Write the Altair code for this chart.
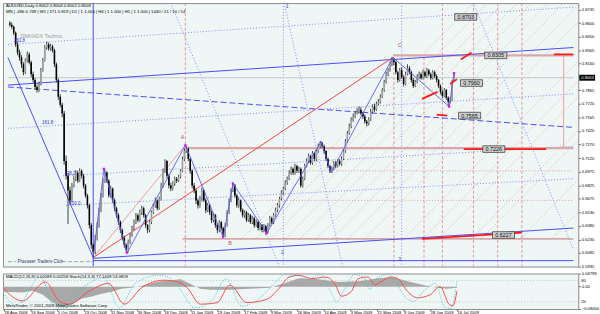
import json
import altair as alt
import pandas as pd

FONT = "Liberation Sans"
PLOT_W = 583
MAIN_H = 267
SUB_H = 36

# ---------------- price bars (AUDUSD daily) ----------------
first_open = 0.8600
closes = [
    0.8583, 0.8561, 0.8496, 0.8367, 0.8280, 0.8226, 0.8150, 0.8064, 0.8194, 0.8259,
    0.8172, 0.8042, 0.7978, 0.7902, 0.7869, 0.7934, 0.8086, 0.8194, 0.8334, 0.8367,
    0.8323, 0.8345, 0.8302, 0.8150, 0.7978, 0.7794, 0.7707, 0.7610, 0.7091, 0.6929,
    0.6767, 0.6659, 0.6821, 0.6896, 0.6961, 0.6875, 0.6983, 0.6929, 0.6821, 0.6713,
    0.6605, 0.6388, 0.6172, 0.6096, 0.6248, 0.6388, 0.6551, 0.6713, 0.6875, 0.6961,
    0.6875, 0.6713, 0.6788, 0.6659, 0.6572, 0.6496, 0.6421, 0.6334, 0.6248, 0.6172,
    0.6118, 0.6205, 0.6280, 0.6356, 0.6421, 0.6496, 0.6442, 0.6529, 0.6572, 0.6496,
    0.6388, 0.6334, 0.6421, 0.6529, 0.6605, 0.6659, 0.6572, 0.6680, 0.6821, 0.6983,
    0.7091, 0.6929, 0.6821, 0.6788, 0.6842, 0.6896, 0.6875, 0.6918, 0.6983, 0.7113,
    0.7199, 0.7221, 0.7113, 0.6983, 0.6821, 0.6767, 0.6659, 0.6605, 0.6680, 0.6767,
    0.6659, 0.6551, 0.6605, 0.6529, 0.6442, 0.6496, 0.6388, 0.6334, 0.6421, 0.6356,
    0.6280, 0.6388, 0.6529, 0.6659, 0.6767, 0.6821, 0.6713, 0.6605, 0.6659, 0.6551,
    0.6496, 0.6529, 0.6442, 0.6496, 0.6421, 0.6464, 0.6388, 0.6421, 0.6356, 0.6388,
    0.6334, 0.6377, 0.6312, 0.6388, 0.6464, 0.6421, 0.6496, 0.6551, 0.6605, 0.6680,
    0.6745, 0.6788, 0.6853, 0.6896, 0.6961, 0.7005, 0.6961, 0.7037, 0.6983, 0.7005,
    0.6821, 0.6896, 0.7037, 0.7091, 0.7145, 0.7070, 0.7178, 0.7113, 0.7199, 0.7253,
    0.7286, 0.7253, 0.7199, 0.7113, 0.7037, 0.6983, 0.7005, 0.7070, 0.7037, 0.7091,
    0.7059, 0.7113, 0.7199, 0.7307, 0.7394, 0.7469, 0.7545, 0.7578, 0.7610, 0.7632,
    0.7653, 0.7610, 0.7578, 0.7523, 0.7502, 0.7545, 0.7632, 0.7686, 0.7653, 0.7718,
    0.7740, 0.7794, 0.7869, 0.7956, 0.8042, 0.8086, 0.8150, 0.8194, 0.8172, 0.8064,
    0.7978, 0.8086, 0.8010, 0.7934, 0.8042, 0.8107, 0.8064, 0.7978, 0.7913, 0.7956,
    0.8010, 0.8042, 0.8000, 0.8064, 0.8021, 0.8086, 0.8042, 0.8000, 0.8064, 0.8021,
    0.7978, 0.7913, 0.7848, 0.7804, 0.7869, 0.7783, 0.7740, 0.7761, 0.7956, 0.8003,
]
highs = [
    0.8625, 0.8610, 0.8575, 0.8510, 0.8400, 0.8310, 0.8250, 0.8175, 0.8215, 0.8290,
    0.8280, 0.8190, 0.8070, 0.8000, 0.7930, 0.7960, 0.8110, 0.8220, 0.8360, 0.8400,
    0.8390, 0.8375, 0.8365, 0.8320, 0.8170, 0.7995, 0.7820, 0.7730, 0.7640, 0.7150,
    0.6960, 0.6810, 0.6850, 0.6930, 0.6990, 0.6985, 0.7010, 0.7000, 0.6950, 0.6840,
    0.6730, 0.6620, 0.6410, 0.6190, 0.6280, 0.6420, 0.6580, 0.6740, 0.6900, 0.7000,
    0.6980, 0.6890, 0.6820, 0.6800, 0.6680, 0.6590, 0.6520, 0.6440, 0.6350, 0.6270,
    0.6190, 0.6230, 0.6300, 0.6380, 0.6450, 0.6520, 0.6515, 0.6560, 0.6600, 0.6590,
    0.6510, 0.6400, 0.6440, 0.6550, 0.6630, 0.6690, 0.6670, 0.6700, 0.6850, 0.7010,
    0.7110, 0.7100, 0.6950, 0.6850, 0.6870, 0.6920, 0.6915, 0.6940, 0.7000, 0.7140,
    0.7230, 0.7260, 0.7240, 0.7130, 0.7000, 0.6850, 0.6790, 0.6680, 0.6710, 0.6800,
    0.6780, 0.6680, 0.6630, 0.6620, 0.6550, 0.6520, 0.6510, 0.6410, 0.6440, 0.6430,
    0.6370, 0.6410, 0.6550, 0.6680, 0.6790, 0.6860, 0.6840, 0.6730, 0.6690, 0.6670,
    0.6570, 0.6550, 0.6545, 0.6520, 0.6510, 0.6490, 0.6480, 0.6450, 0.6440, 0.6410,
    0.6400, 0.6400, 0.6390, 0.6410, 0.6490, 0.6480, 0.6520, 0.6580, 0.6630, 0.6700,
    0.6770, 0.6810, 0.6880, 0.6920, 0.6990, 0.7030, 0.7020, 0.7060, 0.7050, 0.7030,
    0.7020, 0.6920, 0.7060, 0.7120, 0.7170, 0.7160, 0.7200, 0.7190, 0.7220, 0.7280,
    0.7310, 0.7300, 0.7270, 0.7210, 0.7130, 0.7050, 0.7030, 0.7090, 0.7090, 0.7110,
    0.7110, 0.7140, 0.7220, 0.7330, 0.7420, 0.7500, 0.7570, 0.7610, 0.7640, 0.7670,
    0.7690, 0.7680, 0.7630, 0.7600, 0.7540, 0.7570, 0.7660, 0.7710, 0.7720, 0.7740,
    0.7770, 0.7820, 0.7890, 0.7980, 0.8070, 0.8110, 0.8180, 0.8230, 0.8215, 0.8190,
    0.8080, 0.8110, 0.8120, 0.8030, 0.8070, 0.8150, 0.8130, 0.8080, 0.8000, 0.7980,
    0.8040, 0.8070, 0.8060, 0.8090, 0.8080, 0.8110, 0.8100, 0.8060, 0.8085, 0.8080,
    0.8040, 0.7990, 0.7930, 0.7870, 0.7890, 0.7880, 0.7800, 0.7790, 0.7980, 0.8050,
]
lows = [
    0.8560, 0.8540, 0.8470, 0.8340, 0.8250, 0.8190, 0.8110, 0.8030, 0.8045, 0.8170,
    0.8150, 0.8010, 0.7950, 0.7870, 0.7840, 0.7845, 0.7920, 0.8070, 0.8180, 0.8310,
    0.8300, 0.8300, 0.8280, 0.8120, 0.7950, 0.7760, 0.7680, 0.7570, 0.7050, 0.6890,
    0.6400, 0.6620, 0.6640, 0.6800, 0.6870, 0.6850, 0.6860, 0.6900, 0.6790, 0.6690,
    0.6570, 0.6350, 0.6130, 0.6030, 0.6070, 0.6220, 0.6360, 0.6530, 0.6690, 0.6850,
    0.6850, 0.6690, 0.6690, 0.6630, 0.6540, 0.6470, 0.6390, 0.6300, 0.6220, 0.6140,
    0.6080, 0.6100, 0.6180, 0.6260, 0.6330, 0.6400, 0.6420, 0.6425, 0.6500, 0.6470,
    0.6360, 0.6300, 0.6310, 0.6400, 0.6510, 0.6580, 0.6550, 0.6555, 0.6660, 0.6800,
    0.6960, 0.6900, 0.6790, 0.6760, 0.6770, 0.6820, 0.6850, 0.6860, 0.6900, 0.6970,
    0.7090, 0.7180, 0.7090, 0.6950, 0.6790, 0.6740, 0.6620, 0.6570, 0.6580, 0.6650,
    0.6640, 0.6520, 0.6530, 0.6500, 0.6410, 0.6420, 0.6360, 0.6300, 0.6310, 0.6330,
    0.6250, 0.6260, 0.6370, 0.6510, 0.6640, 0.6750, 0.6690, 0.6580, 0.6580, 0.6530,
    0.6470, 0.6470, 0.6420, 0.6425, 0.6400, 0.6400, 0.6360, 0.6370, 0.6330, 0.6330,
    0.6310, 0.6310, 0.6280, 0.6295, 0.6370, 0.6400, 0.6400, 0.6480, 0.6530, 0.6580,
    0.6660, 0.6720, 0.6770, 0.6830, 0.6880, 0.6940, 0.6940, 0.6940, 0.6960, 0.6960,
    0.6800, 0.6800, 0.6880, 0.7020, 0.7070, 0.7050, 0.7050, 0.7090, 0.7090, 0.7180,
    0.7230, 0.7230, 0.7170, 0.7090, 0.7010, 0.6960, 0.6960, 0.6990, 0.7010, 0.7020,
    0.7040, 0.7040, 0.7100, 0.7180, 0.7290, 0.7380, 0.7450, 0.7520, 0.7560, 0.7600,
    0.7610, 0.7590, 0.7550, 0.7500, 0.7470, 0.7480, 0.7530, 0.7610, 0.7630, 0.7640,
    0.7700, 0.7720, 0.7780, 0.7850, 0.7940, 0.8020, 0.8070, 0.8130, 0.8140, 0.8040,
    0.7950, 0.7960, 0.7990, 0.7910, 0.7920, 0.8030, 0.8040, 0.7950, 0.7890, 0.7900,
    0.7940, 0.7990, 0.7980, 0.7985, 0.8000, 0.8000, 0.8020, 0.7980, 0.7985, 0.8000,
    0.7950, 0.7890, 0.7820, 0.7780, 0.7790, 0.7760, 0.7690, 0.7720, 0.7750, 0.7990,
]

price_ticks = [0.8745, 0.8600, 0.8450, 0.8305, 0.8160, 0.7865, 0.7720, 0.7565, 0.7420,
               0.7270, 0.7120, 0.6975, 0.6825, 0.6675, 0.6530, 0.6380, 0.6230, 0.6085, 0.5935]
last_price = 0.8003
x_domain = [0, 291.5]
price_domain = [0.5934, 0.8821]
P_TOP, P_BOT = price_domain[1], price_domain[0]

date_ticks = [0.5, 14, 27.5, 41, 54.5, 68, 81.5, 95, 108.5, 122, 135.5, 149, 162.5, 176,
              189.5, 203, 216.5, 230]
date_labels = ["28 Aug 2008", "16 Sep 2008", "5 Oct 2008", "23 Oct 2008", "11 Nov 2008",
               "30 Nov 2008", "18 Dec 2008", "11 Jan 2009", "29 Jan 2009", "17 Feb 2009",
               "9 Mar 2009", "26 Mar 2009", "14 Apr 2009", "3 May 2009", "21 May 2009",
               "9 Jun 2009", "28 Jun 2009", "16 Jul 2009"]

# ---------------- indicator window ----------------
macd_bar = [0, 10, 15, 20, 25, 30, 35, 40, 45, 50, 55, 60, 65, 70, 75, 80, 85, 90, 95, 100,
            105, 115, 125, 135, 142.5, 150, 160, 170, 180, 190, 197.5, 205, 212.5, 220, 225, 230]
macd_val = [-0.018, -0.021, -0.014, -0.028, -0.056, -0.073, -0.063, -0.042, -0.035, -0.025,
            -0.018, -0.007, -0.003, 0.003, 0.013, 0.020, 0.024, 0.027, 0.010, -0.007,
            -0.011, -0.011, -0.007, -0.003, 0.013, 0.031, 0.027, 0.017, 0.020, 0.031,
            0.034, 0.020, 0.007, -0.003, -0.007, -0.003]
macd_domain = [-0.08, 0.04799]
macd_ticks = [0.04799, 0.0, -0.08]

sig_bar = [0, 10, 21.5, 28.5, 33.5, 43.5, 53.5, 61.5, 70, 81.5, 88.5, 93.5, 100, 108.5, 115,
           123.5, 133.5, 140, 145, 150, 156.5, 163.5, 168.5, 171.5, 176.5, 180, 185, 188.5,
           191.5, 196.5, 200, 205, 210, 216.5, 221.5, 226, 228, 230]
sig_val = [58.6, 22.5, 76.5, 22.5, 13.6, 49.5, 72, 13.6, 58.6, 81, 76.5, 58.6, 13.6, 18, 67.6,
           18, 27, 58.6, 90, 94.6, 85.6, 90, 67.6, 36, 49.5, 85.6, 90, 67.6, 76.5, 90, 85.6,
           49.5, 31.6, 40.5, 63, 13.6, 9, 50]
main_bar = [0, 7, 19, 26, 31, 41, 51, 59, 67, 79, 86, 91, 97, 106, 113, 121, 131, 138, 143,
            149, 154, 161, 166, 169, 174, 178, 183, 186, 189, 195, 199, 203, 208, 214, 219,
            224, 227, 230]
main_val = [45, 10, 90, 8, 3, 62, 88, 4, 72, 95, 82, 45, 3, 25, 85, 8, 35, 75, 98, 97, 82,
            97, 50, 20, 65, 97, 88, 55, 85, 97, 78, 38, 22, 55, 72, 4, 2, 77]
stoch_levels = [80, 20]

# ---------------- drawn objects (bar index, price) ----------------
blue_solid = [(44, P_TOP, 44, P_BOT), (0, 0.8226, 44, 0.6032), (0, 0.7923, 291.5, 0.8334),
              (44, 0.6024, 291.5, 0.6356), (44, 0.5999, 291.5, 0.5999)]
blue_dashed = [(0, 0.7902, 291.5, 0.7459)]
blue_dotted = [(0, 0.8367, 291.5, 0.8777), (0, 0.7448, 291.5, 0.7826),
               (28.5, 0.6929, 291.5, 0.7253), (30, 0.6604, 291.5, 0.6896),
               (84, P_TOP, 140, P_BOT), (142.5, P_TOP, 172.5, P_BOT), (240, P_TOP, 291.5, 0.6118),
               (142, P_TOP, 142, P_BOT), (203, P_TOP, 203, P_BOT)]
red_solid = [(44, 0.6032, 198.5, 0.8226)]
pink_thin = [(44, 0.6032, 91.5, 0.7264), (286.5, 0.8248, 286.5, 0.7221)]
pink_thick = [(198.5, 0.8248, 291.5, 0.8248), (91.5, 0.7232, 291.5, 0.7232)]
brown_line = [(90, 0.6237, 291.5, 0.6237)]
red_thick = [(281.5, 0.8258, 291.5, 0.8258), (235, 0.7221, 277.5, 0.7221),
             (221, 0.7599, 226.5, 0.7588), (213.5, 0.6237, 265, 0.6306),
             (213.5, 0.7772, 221.5, 0.7848), (228, 0.7934, 231.5, 0.7988),
             (233.5, 0.8204, 239, 0.8280)]
red_dashed_v = [(91.5, P_TOP, 91.5, P_BOT), (199, 0.8226, 199, P_BOT), (214.5, 0.8226, 214.5, P_BOT),
                (224, P_TOP, 224, P_BOT), (240, P_TOP, 240, P_BOT), (252.5, P_TOP, 252.5, P_BOT),
                (265, P_TOP, 265, P_BOT)]
red_dotted_h = [(91.5, 0.6983, 291.5, 0.6983), (122.5, 0.6659, 291.5, 0.6659)]
red_dotted_diag = [(120, 0.6226, 240, 0.8821), (127.5, 0.6226, 247.5, 0.8821),
                   (135, 0.6226, 255, 0.8821), (142.5, 0.6226, 262.5, 0.8821),
                   (150, 0.6226, 270, 0.8821), (158.5, 0.6226, 278.5, 0.8821),
                   (166.5, 0.6226, 286.5, 0.8821), (175, 0.6226, 295, 0.8821),
                   (183.5, 0.6226, 303.5, 0.8821), (203.5, 0.6226, 323.5, 0.8821),
                   (213.5, 0.6226, 333.5, 0.8821), (221.5, 0.6226, 341.5, 0.8821),
                   (238.5, 0.6226, 358.5, 0.8821), (243.5, 0.6226, 363.5, 0.8821),
                   (263.5, 0.6226, 383.5, 0.8821), (280, 0.6226, 400, 0.8821)]
gray_dashed = [(0, 0.5988, 4, 0.5988), (28, 0.5988, 44, 0.5988)]
current_line = [(0, last_price, 291.5, last_price)]

zigzag_bar = [44, 49.5, 61.5, 91.5, 111, 116, 133.5, 161.5, 166.5, 198.5, 227.5, 230]
zigzag_price = [0.6042, 0.7005, 0.6086, 0.7264, 0.6256, 0.6842, 0.6302, 0.7307, 0.6961,
                0.8226, 0.7686, 0.8053]
pivot_bar = [49.5, 61.5, 91.5, 111, 116, 133.5, 227.5, 230]
pivot_price = [0.7005, 0.6086, 0.7264, 0.6256, 0.6842, 0.6302, 0.7686, 0.8053]

box_bar = [236, 251.5, 239, 238, 250.5, 255.5]
box_price = [0.8669, 0.8248, 0.7945, 0.7588, 0.7221, 0.6280]
box_text = ["0.8703", "0.8305", "0.7960", "0.7565", "0.7226", "0.6227"]

blue_note_bar = [6, 20.5, 32, 34.5, 144, 141.5, 202]
blue_note_price = [0.8410, 0.7502, 0.6950, 0.6615, 0.8777, 0.6086, 0.6010]
blue_note_text = ["261.8", "161.8", "138.2", "100.0", "1", "2", "3"]
red_note_bar = [90, 114.5, 202]
red_note_price = [0.7351, 0.6194, 0.8356]
red_note_text = ["A", "B", "C"]

header1 = "AUDUSD,Daily  0.8002 0.8004 0.8002 0.8003"
header2 = ("MN | -486  0.749 | W1 | 171  0.819 | D1 | 1  1.000 | H4 | 1  1.000 | "
           "H1 | 1  1.000 | 1440 / 21 / 10 / 54")
sub_header = "MACD(12,26,9) 0.00589 0.00258  Stoch(14,3,3) 77.1409 53.0859"
copyright_txt = "MetaTrader, \u00a9 2001-2009 MetaQuotes Software Corp."
club_txt = "Pravaser Traders Club"
technic_txt = "DMI/ADX Technic"

# ---------------- build ----------------
xs = alt.Scale(domain=x_domain, nice=False, zero=False)
ys = alt.Scale(domain=price_domain, nice=False, zero=False)
yax = alt.Axis(orient="right", values=price_ticks, format=".4f", labelFontSize=4.2,
               labelFont=FONT, tickSize=2, labelPadding=1, domain=False, tickColor="#666",
               labelColor="#000", grid=False, title=None, labelOverlap=False)


def X(field):
    return alt.X(field, scale=xs, axis=None)


def Y(field):
    return alt.Y(field, scale=ys, axis=yax)


def segs(rows, color, width=1.0, dash=None):
    df = pd.DataFrame(rows, columns=["x", "y", "x2", "y2"])
    kw = dict(color=color, strokeWidth=width, clip=True)
    if dash:
        kw["strokeDash"] = dash
    return alt.Chart(df).mark_rule(**kw).encode(x=X("x:Q"), y=Y("y:Q"), x2="x2:Q", y2="y2:Q")


def pix_text(txt, px, py, size=4.4, color="#000", style="normal"):
    return alt.Chart(pd.DataFrame({"t": [txt]})).mark_text(
        fontSize=size, font=FONT, color=color, align="left", baseline="middle",
        fontStyle=style).encode(text="t:N", x=alt.value(px), y=alt.value(py))


n = len(closes)
opens = [first_open] + closes[:-1]
bars = pd.DataFrame({
    "i": list(range(1, n + 1)), "o": opens, "c": closes, "h": highs, "l": lows,
    "d": ["up" if c >= o else "down" for o, c in zip(opens, closes)],
})

wicks = alt.Chart(bars).mark_rule(color="#2a2a2a", strokeWidth=0.9).encode(
    x=X("i:Q"), y=Y("l:Q"), y2="h:Q")
bodies = alt.Chart(bars).mark_bar(size=1.6).encode(
    x=X("i:Q"), y=Y("o:Q"), y2="c:Q",
    color=alt.Color("d:N", scale=alt.Scale(domain=["up", "down"], range=["#a0a0a0", "#000000"]),
                    legend=None))

zz = pd.DataFrame({"x": zigzag_bar, "y": zigzag_price, "k": list(range(len(zigzag_bar)))})
zigzag = alt.Chart(zz).mark_line(color="#5a5aff", strokeWidth=0.9, clip=True).encode(
    x=X("x:Q"), y=Y("y:Q"), order="k:Q")
pv = pd.DataFrame({"x": pivot_bar, "y": pivot_price})
pivots = alt.Chart(pv).mark_square(size=5, color="#ff00ff", opacity=1).encode(
    x=X("x:Q"), y=Y("y:Q"))

bx = pd.DataFrame({"x": box_bar, "y": box_price, "t": box_text})
box_bg = alt.Chart(bx).mark_point(shape="M-1,-0.3H1V0.3H-1Z", size=500, fill="#cfcfcf",
                                  stroke="#303030", strokeWidth=0.7, opacity=1,
                                  fillOpacity=1).encode(x=X("x:Q"), y=Y("y:Q"))
box_tx = alt.Chart(bx).mark_text(fontSize=5.5, font=FONT, color="#111").encode(
    x=X("x:Q"), y=Y("y:Q"), text="t:N")

bn = pd.DataFrame({"x": blue_note_bar, "y": blue_note_price, "t": blue_note_text})
blue_notes = alt.Chart(bn).mark_text(fontSize=4.5, font=FONT, color="#3030e0").encode(
    x=X("x:Q"), y=Y("y:Q"), text="t:N")
rn = pd.DataFrame({"x": red_note_bar, "y": red_note_price, "t": red_note_text})
red_notes = alt.Chart(rn).mark_text(fontSize=5.5, font=FONT, color="#c05050").encode(
    x=X("x:Q"), y=Y("y:Q"), text="t:N")

tech = alt.Chart(pd.DataFrame({"x": [6.5], "y": [0.8464], "t": [technic_txt]})).mark_text(
    fontSize=5.5, font=FONT, color="#9a9a9a", align="left").encode(x=X("x:Q"), y=Y("y:Q"), text="t:N")
club = alt.Chart(pd.DataFrame({"x": [5], "y": [0.5988], "t": [club_txt]})).mark_text(
    fontSize=4.6, font=FONT, color="#303060", align="left", fontStyle="italic").encode(
    x=X("x:Q"), y=Y("y:Q"), text="t:N")

hdr1 = pix_text(header1, 3, 3, 4.3)
hdr2 = pix_text(header2, 3, 9, 4.3)

cur_rule = alt.Chart(pd.DataFrame({"y": [last_price]})).mark_rule(
    color="#000", strokeWidth=6).encode(x=alt.value(PLOT_W + 1), x2=alt.value(PLOT_W + 17), y=Y("y:Q"))
cur_txt = alt.Chart(pd.DataFrame({"y": [last_price], "t": [f"{last_price:.4f}"]})).mark_text(
    fontSize=4.2, font=FONT, color="#fff", align="left").encode(
    x=alt.value(PLOT_W + 3), y=Y("y:Q"), text="t:N")

main = alt.layer(
    segs(red_dotted_diag, "#e3a592", 0.8, [1, 2]),
    segs(red_dotted_h, "#d58a80", 0.8, [1, 2]),
    segs(red_dashed_v, "#e08080", 0.8, [3, 2]),
    segs(blue_dotted, "#7070ff", 0.8, [1, 2]),
    segs(current_line, "#c8c8c8", 1),
    segs(gray_dashed, "#909090", 0.8, [4, 2]),
    segs(pink_thick, "#dba8a8", 2.2),
    segs(brown_line, "#c07070", 1),
    segs(pink_thin, "#f0a0a0", 1),
    segs(blue_dashed, "#4b4bff", 1, [6, 3]),
    segs(blue_solid, "#4b4bff", 1),
    segs(red_solid, "#ff4040", 1),
    wicks, bodies, zigzag,
    segs(red_thick, "#ff1a1a", 1.8),
    pivots, box_bg, box_tx, blue_notes, red_notes, tech, club, hdr1, hdr2, cur_rule, cur_txt,
).properties(width=PLOT_W, height=MAIN_H)

# ---------------- indicator panel ----------------
label_expr = f"{json.dumps(date_labels)}[indexof({json.dumps(date_ticks)}, datum.value)]"
xax = alt.Axis(values=date_ticks, labelExpr=label_expr, labelAlign="left", labelFontSize=4.2,
               labelFont=FONT, tickSize=2, labelPadding=0, labelFlush=False, labelOverlap=False,
               grid=False, title=None, domain=False, tickColor="#666", labelColor="#000")
ms = alt.Scale(domain=macd_domain, nice=False, zero=False)
ss = alt.Scale(domain=[0, 100], nice=False, zero=False)
max_ = alt.Axis(orient="right", values=macd_ticks, labelFontSize=4.2, labelFont=FONT, tickSize=2,
                labelPadding=1, domain=False, grid=False, title=None, labelOverlap=False,
                tickColor="#666", labelColor="#000",
                labelExpr="datum.value == 0 ? '0.00' : format(datum.value, '.5f')")

macd_df = pd.DataFrame({"x": macd_bar, "v": macd_val})
macd_area = alt.Chart(macd_df).mark_area(color="#a8a8a8", opacity=1).encode(
    x=alt.X("x:Q", scale=xs, axis=xax), y=alt.Y("v:Q", scale=ms, axis=max_), y2=alt.datum(0))
lv_df = pd.DataFrame({"v": stoch_levels, "t": [str(v) for v in stoch_levels]})
levels = alt.Chart(lv_df).mark_rule(color="#b8b8b8", strokeWidth=0.8, strokeDash=[1, 2]).encode(
    y=alt.Y("v:Q", scale=ss, axis=None))
lv_txt = alt.Chart(lv_df).mark_text(fontSize=4.2, font=FONT, color="#000", align="left").encode(
    x=alt.value(PLOT_W + 3), y=alt.Y("v:Q", scale=ss, axis=None), text="t:N")
sig_line = alt.Chart(pd.DataFrame({"x": sig_bar, "v": sig_val})).mark_line(
    color="#ff4a4a", strokeWidth=1, interpolate="monotone").encode(
    x=alt.X("x:Q", scale=xs, axis=xax), y=alt.Y("v:Q", scale=ss, axis=None))
main_line = alt.Chart(pd.DataFrame({"x": main_bar, "v": main_val})).mark_line(
    color="#40c8c8", strokeWidth=1, strokeDash=[1, 1.5], interpolate="monotone").encode(
    x=alt.X("x:Q", scale=xs, axis=xax), y=alt.Y("v:Q", scale=ss, axis=None))
sub_t1 = pix_text(sub_header, 3, 4, 4.3)
sub_t2 = pix_text(copyright_txt, 3, 33, 4.3)

sub = alt.layer(macd_area, levels, lv_txt, sig_line, main_line, sub_t1, sub_t2).resolve_scale(
    y="independent").properties(width=PLOT_W, height=SUB_H)

chart = alt.vconcat(main, sub, spacing=1).properties(padding=0, background="white").configure_view(
    fill="#eef6f6", stroke="#8a8a8a", strokeWidth=1)

chart.save("out.html", embed_options={"renderer": "svg", "actions": False})
